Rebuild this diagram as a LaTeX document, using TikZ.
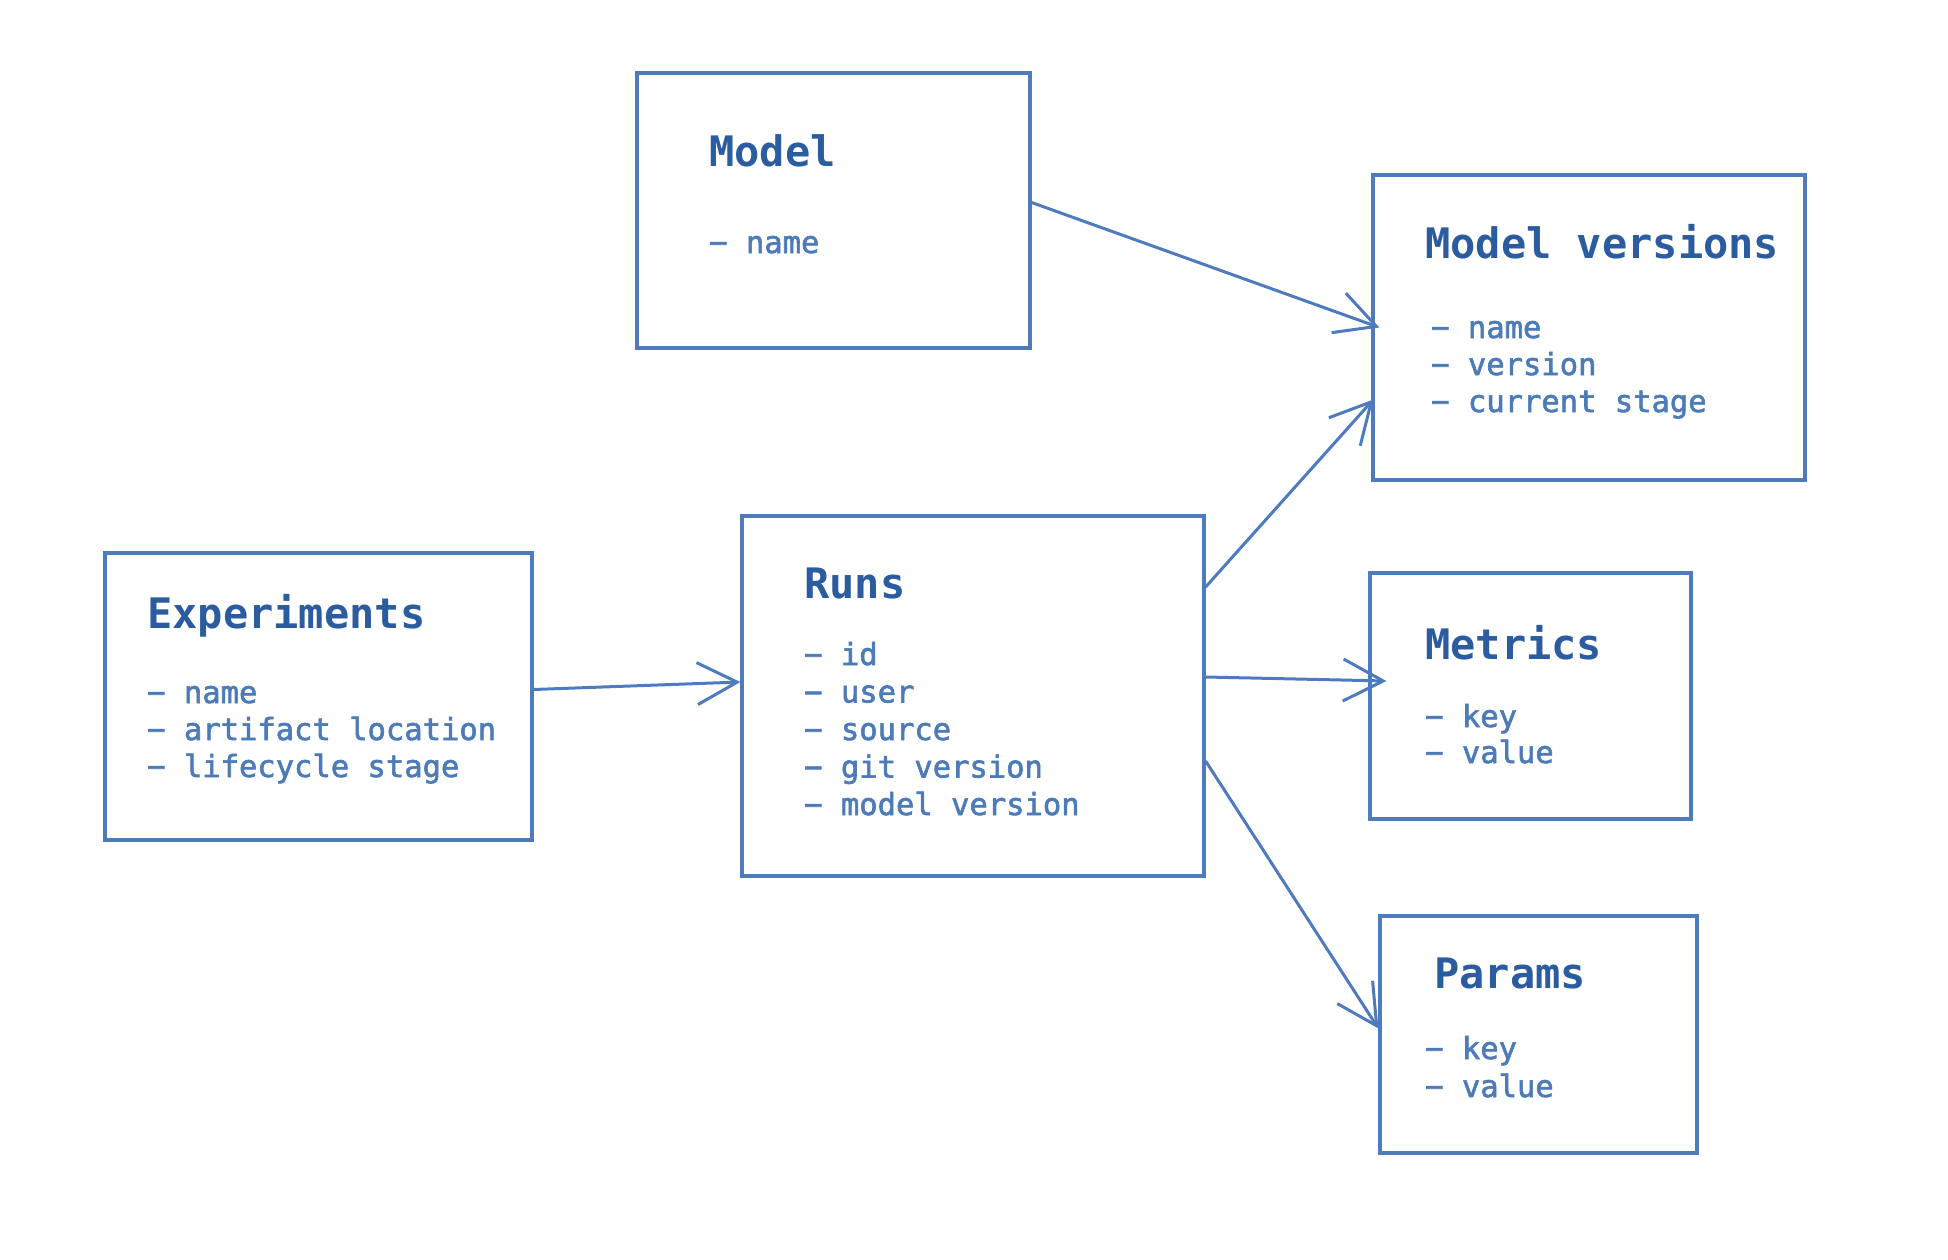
\documentclass[tikz,border=0pt]{standalone}
\usepackage{fontspec}
\setmonofont{DejaVu Sans Mono}
\newfontfamily\fieldfont[FakeBold=2]{DejaVu Sans Mono}
\usetikzlibrary{arrows.meta}
\definecolor{sketchblue}{RGB}{78,122,190}
\definecolor{titleblue}{RGB}{44,92,160}
\definecolor{fieldblue}{RGB}{77,123,184}
\begin{document}
\begin{tikzpicture}[x=1pt,y=-1pt]
    \tikzset{
        table/.style={draw=sketchblue, line width=3.2pt, rectangle, inner sep=0pt},
        title/.style={anchor=base west, inner sep=0pt, text=titleblue,
            font=\ttfamily\bfseries\fontsize{42}{50}\selectfont},
        field/.style={anchor=base west, inner sep=0pt, text=fieldblue,
            font=\fieldfont\fontsize{30.5}{37}\selectfont},
        link/.style={draw=sketchblue, line width=3pt,
            -{Straight Barb[length=40pt, width=42pt]}}
    }
    \useasboundingbox (0,0) rectangle (1948,1260);

    % tables
    \node[table, minimum width=393pt, minimum height=275pt] (model) at (833.5,210.5) {};
    \node[table, minimum width=432pt, minimum height=305pt] (versions) at (1589,327.5) {};
    \node[table, minimum width=427pt, minimum height=287pt] (exp) at (318.5,696.5) {};
    \node[table, minimum width=462pt, minimum height=360pt] (runs) at (973,696) {};
    \node[table, minimum width=321pt, minimum height=246pt] (metrics) at (1530.5,696) {};
    \node[table, minimum width=317pt, minimum height=237pt] (params) at (1538.5,1034.5) {};

    % titles
    \node[title] (model-t) at (709,167) {Model};
    \node[title] (versions-t) at (1425,258) {Model versions};
    \node[title] (exp-t) at (147,628) {Experiments};
    \node[title] (runs-t) at (804,598) {Runs};
    \node[title] (metrics-t) at (1425,659) {Metrics};
    \node[title] (params-t) at (1434,988) {Params};

    % fields
    \node[field] (model-f1) at (709,253) {− name};
    \foreach \f [count=\i] in {name,version,current stage}
        \node[field] (versions-f\i) at (1431,{338+37*(\i-1)}) {− \f};
    \foreach \f [count=\i] in {name,artifact location,lifecycle stage}
        \node[field] (exp-f\i) at (147,{703+37*(\i-1)}) {− \f};
    \foreach \f [count=\i] in {id,user,source,git version,model version}
        \node[field] (runs-f\i) at (804,{665+37.5*(\i-1)}) {− \f};
    \foreach \f [count=\i] in {key,value}
        \node[field] (metrics-f\i) at (1425,{727+36*(\i-1)}) {− \f};
    \foreach \f [count=\i] in {key,value}
        \node[field] (params-f\i) at (1425,{1059+38*(\i-1)}) {− \f};

    % links
    \draw[link] ([yshift=8pt]model.east) -- ([xshift=8pt]versions.west);
    \draw[link] ([yshift=7pt]exp.east) -- ([yshift=14pt]runs.west);
    \draw[link] ([yshift=109pt]runs.east) -- ([xshift=2pt,yshift=-72pt]versions.west);
    \draw[link] ([yshift=19pt]runs.east) -- ([xshift=18pt,yshift=15pt]metrics.west);
    \draw[link] ([yshift=-65pt]runs.east) -- ([yshift=6pt]params.west);
\end{tikzpicture}
\end{document}
